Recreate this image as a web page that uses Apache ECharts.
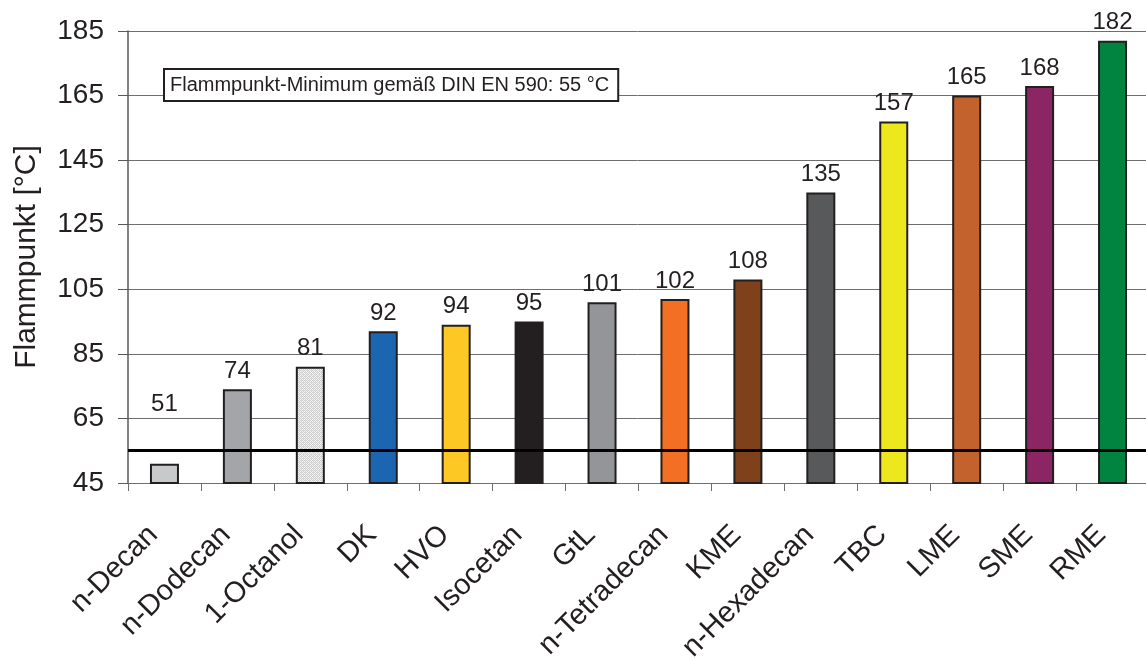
<!DOCTYPE html>
<html>
<head>
<meta charset="utf-8">
<script src="https://cdn.jsdelivr.net/npm/echarts@6/dist/echarts.min.js"></script>
<style>html,body{margin:0;padding:0;background:#fff;}#c{width:1146px;height:660px;}</style>
</head>
<body>
<div id="c"></div>
<script>
const categories = ['n-Decan','n-Dodecan','1-Octanol','DK','HVO','Isocetan','GtL','n-Tetradecan','KME','n-Hexadecan','TBC','LME','SME','RME'];
const flashPoints = [51,74,81,92,94,95,101,102,108,135,157,165,168,182];
const yTicks = {min:45, max:185, interval:20};
const minLimit = 55;
const annotationText = 'Flammpunkt-Minimum gemäß DIN EN 590: 55 °C';

const barColors = ['#c8c9cb','#a3a5a8',null,'#1c65b0','#fdc823','#231f20','#939598','#f26f23','#7e411b','#58595b','#ede81b','#c4622d','#8b2563','#00843f'];

// crosshatch pattern for 1-Octanol
const pc = document.createElement('canvas');
pc.width = 4; pc.height = 4;
const pctx = pc.getContext('2d');
pctx.fillStyle = '#f4f4f4'; pctx.fillRect(0,0,4,4);
pctx.fillStyle = '#cfcfcf';
pctx.fillRect(0,0,1,1); pctx.fillRect(2,0,1,1); pctx.fillRect(1,1,1,1); pctx.fillRect(3,1,1,1);
pctx.fillRect(0,2,1,1); pctx.fillRect(2,2,1,1); pctx.fillRect(1,3,1,1); pctx.fillRect(3,3,1,1);
pctx.fillStyle = '#dcdcdc'; pctx.fillRect(1,0,1,1); pctx.fillRect(3,2,1,1);

const seriesData = flashPoints.map((v,i)=>{
  const item = {value:v, itemStyle:{color: barColors[i] || {image: pc, repeat:'repeat'}}};
  if (i === 0) item.label = {offset:[0,-41]};
  return item;
});

const chart = echarts.init(document.getElementById('c'), null, {renderer:'canvas'});
const FONT = '"Liberation Sans", Arial, sans-serif';
chart.setOption({
  animation:false,
  backgroundColor:'#fff',
  grid:{left:128, top:31, width:1021, bottom:177, containLabel:false, outerBoundsMode:'none'},
  xAxis:{
    type:'category', data:categories,
    axisLine:{lineStyle:{color:'#6d6e71', width:1}},
    axisTick:{show:true, length:8, alignWithLabel:false, lineStyle:{color:'#6d6e71'}},
    axisLabel:{rotate:45, fontSize:29, color:'#231f20', fontFamily:FONT, margin:36, interval:0, padding:[0,16,0,0]}
  },
  yAxis:{
    type:'value', min:yTicks.min, max:yTicks.max, interval:yTicks.interval,
    name:'Flammpunkt [°C]', nameLocation:'middle', nameRotate:90, nameGap:86,
    nameTextStyle:{fontSize:30, color:'#231f20', fontFamily:FONT},
    axisLine:{show:true, lineStyle:{color:'#58595b', width:1.5}},
    axisTick:{show:true, length:10, lineStyle:{color:'#58595b'}},
    axisLabel:{fontSize:28, color:'#231f20', fontFamily:FONT, margin:24},
    splitLine:{show:true, lineStyle:{color:'#6d6e71', width:1}}
  },
  series:[{
    type:'bar', data:seriesData, barWidth:29,
    itemStyle:{borderColor:'#231f20', borderWidth:2},
    label:{show:true, position:'top', distance:6, fontSize:24, color:'#231f20', fontFamily:FONT},
    markLine:{
      silent:true, symbol:'none', label:{show:false},
      lineStyle:{color:'#000', width:3, type:'solid'},
      data:[{yAxis:minLimit}]
    }
  }],
  graphic:[{
    type:'text', left:163, top:68, z:10,
    style:{text:annotationText, fontSize:20, fontFamily:FONT, fill:'#231f20',
      backgroundColor:'#fff', borderColor:'#231f20', borderWidth:2, padding:[5,8,5,5]}
  }]
});
</script>
</body>
</html>
